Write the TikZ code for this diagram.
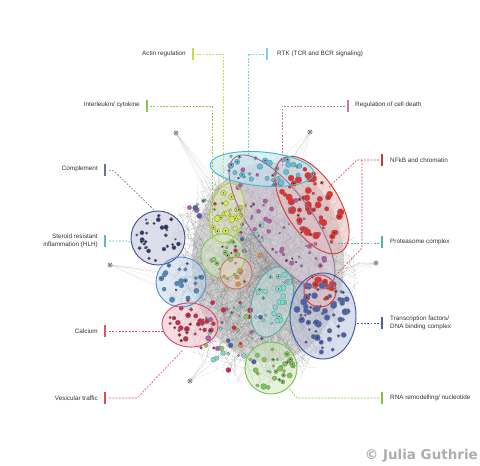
\documentclass[tikz,border=0pt]{standalone}
\usepackage{fontspec}
\setmainfont{Liberation Sans}
\newfontfamily\markfont{DejaVu Sans}
\usepackage{tikz}
\usepackage{xcolor}

% label bar / leader colours
\definecolor{actinC}{HTML}{C8DC46}
\definecolor{rtkC}{HTML}{7CCFDF}
\definecolor{ilkC}{HTML}{8CC850}
\definecolor{deathC}{HTML}{C47AAE}
\definecolor{complC}{HTML}{6670A4}
\definecolor{nfkbC}{HTML}{D23A3A}
\definecolor{hlhC}{HTML}{5AB8D8}
\definecolor{protC}{HTML}{52B4A8}
\definecolor{tfC}{HTML}{4E62A2}
\definecolor{calcC}{HTML}{E0506A}
\definecolor{vesiC}{HTML}{E04A56}
\definecolor{rnaC}{HTML}{78C446}
% cluster outlines
\definecolor{cyanL}{HTML}{40B8D4}
\definecolor{puL}{HTML}{9A709A}
\definecolor{redL}{HTML}{D04040}
\definecolor{yelL}{HTML}{B8CC40}
\definecolor{grL}{HTML}{8CC864}
\definecolor{orL}{HTML}{C87860}
\definecolor{navL}{HTML}{4A5290}
\definecolor{lbL}{HTML}{5A90CC}
\definecolor{caL}{HTML}{D44C68}
\definecolor{tlL}{HTML}{58AAAA}
\definecolor{bluL}{HTML}{4258A4}
\definecolor{lgL}{HTML}{78C450}
% dots
\definecolor{cyanD}{HTML}{5CC0DC}
\definecolor{puD}{HTML}{B45AAA}
\definecolor{redD}{HTML}{E23030}
\definecolor{yelD}{HTML}{D6E84A}
\definecolor{grD}{HTML}{8CCB5A}
\definecolor{orD}{HTML}{E88A3A}
\definecolor{navD}{HTML}{2E3870}
\definecolor{lbD}{HTML}{4A8AC4}
\definecolor{caD}{HTML}{CC2848}
\definecolor{tlD}{HTML}{7ADCD0}
\definecolor{bluD}{HTML}{4A62AE}
\definecolor{lgD}{HTML}{7CC850}

\tikzset{
  lab/.style={font=\fontsize{5.4}{6.6}\selectfont, text=black!80, inner sep=0pt},
  tag/.style={line width=1.3pt},
  lead/.style={dash pattern=on 1.6pt off 1.2pt, line width=0.5pt},
  dot/.style={draw=black!55, line width=0.2pt},
  edge/.style={black!50, line width=0.12pt, opacity=0.5},
  hub/.style={fill=gray!30, draw=black!60, line width=0.3pt}
}

% cx/cy/rx/ry/rotation/outline/dot colour/count/min size/extra size
\def\clusters{
  282/222/80/30/-54/puL/puD/55/0.9/1.6,
  312/205/55/27/-58/redL/redD/55/1.6/2.0,
  262/169/52/17/-5/cyanL/cyanD/30/1.5/1.6,
  227/213/17/30/-10/yelL/yelD/24/1.4/1.8,
  223/256/22/22/0/grL/grD/16/1.0/1.4,
  236/273/16/16/0/orL/orD/9/1.2/1.6,
  158/238/27/27/0/navL/navD/30/1.0/1.4,
  181/282/25/25/0/lbL/lbD/22/1.0/1.8,
  190/325/28/22/-5/caL/caD/28/1.0/1.8,
  272/302/20/36/-15/tlL/tlD/24/1.2/2.0,
  323/316/33/43/0/bluL/bluD/65/1.2/2.2,
  320/291/16/16/0/redL/redD/8/2.0/1.4,
  271/368/26/26/0/lgL/lgD/32/1.0/2.0}

\begin{document}
\begin{tikzpicture}[x=0.03cm,y=-0.03cm]
\useasboundingbox (0,0) rectangle (480,465);
\fill[white] (0,0) rectangle (480,465);
\pgfmathsetseed{4711}

% hairball
\fill[gray!45,opacity=0.7] (268,262) ellipse (76 and 100);
\fill[gray!40,opacity=0.5] (270,250) ellipse (50 and 70);
\foreach \k in {1,...,600}{
    \pgfmathsetmacro\aa{360*rnd}\pgfmathsetmacro\ra{sqrt(rnd)}
    \pgfmathsetmacro\ab{360*rnd}\pgfmathsetmacro\rb{sqrt(rnd)}
    \draw[edge] ({263+98*\ra*cos(\aa)},{268+120*\ra*sin(\aa)})
        -- ({263+98*\rb*cos(\ab)},{268+120*\rb*sin(\ab)});
}
\foreach \ox/\oy/\tx/\ty in {176/133/235/215, 310/132/285/178, 110/265/182/285, 376/263/345/272, 190/381/222/350}{
    \foreach \k in {1,...,7}{
        \draw[edge,black!30,opacity=0.5] (\ox,\oy) -- ({\tx+34*(rnd-0.5)},{\ty+34*(rnd-0.5)});
    }
}

% cluster fills
\foreach \cx/\cy/\rx/\ry/\rot/\lc/\dc/\n/\smin/\sadd in \clusters{
    \fill[\lc!35,opacity=0.55,rotate around={\rot:(\cx,\cy)}] (\cx,\cy) ellipse ({\rx} and {\ry});
}

% scattered nodes between the groups
\foreach \sx/\sy/\sr/\m in {232/335/38/45, 202/205/14/10, 250/240/20/12}{
    \foreach \k in {1,...,\m}{
        \pgfmathsetmacro\aa{360*rnd}\pgfmathsetmacro\ra{sqrt(rnd)}
        \pgfmathsetmacro\sz{1.0+1.8*rnd}
        \pgfmathtruncatemacro\c{int(6*rnd)}
        \ifcase\c \def\cc{orD}\or\def\cc{grD}\or\def\cc{puD}\or\def\cc{tlD}\or\def\cc{bluD}\else\def\cc{caD}\fi
        \filldraw[dot,fill=\cc] ({\sx+\sr*\ra*cos(\aa)},{\sy+\sr*\ra*sin(\aa)}) circle (\sz);
    }
}

% cluster nodes
\foreach \cx/\cy/\rx/\ry/\rot/\lc/\dc/\n/\smin/\sadd in \clusters{
    \begin{scope}[shift={(\cx,\cy)},rotate=\rot]
    \foreach \k in {1,...,\n}{
        \pgfmathsetmacro\aa{360*rnd}\pgfmathsetmacro\ra{0.86*sqrt(rnd)}
        \pgfmathsetmacro\px{\rx*\ra*cos(\aa)}\pgfmathsetmacro\py{\ry*\ra*sin(\aa)}
        \pgfmathsetmacro\sz{\smin+\sadd*rnd}
        \pgfmathtruncatemacro\blk{rnd<0.3}
        \filldraw[dot,fill=\dc] (\px,\py) circle (\sz);
        \ifnum\blk=1 \fill[black!85] (\px,\py) circle (0.7); \fi
    }
    \end{scope}
}

% cluster outlines
\foreach \cx/\cy/\rx/\ry/\rot/\lc/\dc/\n/\smin/\sadd in \clusters{
    \draw[\lc,line width=0.8pt,rotate around={\rot:(\cx,\cy)}] (\cx,\cy) ellipse ({\rx} and {\ry});
}

% lone hubs
\foreach \ox/\oy in {176/133, 310/132, 110/265, 376/263, 190/381}{
    \filldraw[hub] (\ox,\oy) circle (2.2);
    \fill[black!85] (\ox,\oy) circle (0.9);
}

% labels
\node[lab,anchor=east] (actin) at (186,54) {Actin regulation};
\node[lab,anchor=west] (rtk) at (277,54) {RTK (TCR and BCR signaling)};
\node[lab,anchor=east] (ilk) at (140,105) {Interleukin/ cytokine};
\node[lab,anchor=west] (death) at (355,105) {Regulation of cell death};
\node[lab,anchor=east] (compl) at (98,169) {Complement};
\node[lab,anchor=west] (nfkb) at (390,160) {NFkB and chromatin};
\node[lab,anchor=east,align=right] (hlh) at (98,241) {Steroid resistant\\inflammation (HLH)};
\node[lab,anchor=west] (prot) at (390,242) {Proteasome complex};
\node[lab,anchor=west,align=left] (tf) at (390,323) {Transcription factors/\\DNA binding complex};
\node[lab,anchor=east] (calc) at (98,331) {Calcium};
\node[lab,anchor=east] (vesi) at (98,398) {Vesicular traffic};
\node[lab,anchor=west] (rna) at (390,398) {RNA remodelling/ nucleotide};

% colour tags
\foreach \bx/\by/\col in {193/54/actinC, 267/54/rtkC, 147/106/ilkC, 348/106/deathC, 105/170/complC,
    382/160/nfkbC, 105/241/hlhC, 382/242/protC, 382/323/tfC, 105/331/calcC, 105/398/vesiC, 382/398/rnaC}{
    \draw[tag,\col] (\bx,\by-6) -- (\bx,\by+6);
}

% leader ends
\coordinate (actinT) at (223,186);
\coordinate (rtkT) at (248,156);
\coordinate (ilkT) at (212,240);
\coordinate (deathT) at (282,166);
\coordinate (complT) at (156,212);
\coordinate (nfkbT) at (328,188);
\coordinate (nfkbU) at (335,276);
\coordinate (hlhT) at (133,244);
\coordinate (protT) at (338,243);
\coordinate (tfT) at (357,323);
\coordinate (calcT) at (164,331);
\coordinate (vesiT) at (183,350);
\coordinate (rnaT) at (289,388);

% leaders
\draw[lead,actinC] (196,54) -| (actinT);
\draw[lead,rtkC] (264,54) -| (rtkT);
\draw[lead,ilkC] (150,106) -| (ilkT);
\draw[lead,deathC] (345,106) -| (deathT);
\draw[lead,complC] (109,170) -- (114,171) -- (complT);
\draw[lead,nfkbC] (379,160) -- (357,160) -- (nfkbT);
\draw[lead,nfkbC] (362,160) -- (362,248) -- (nfkbU);
\draw[lead,hlhC] (109,241) -- (128,241) -- (hlhT);
\draw[lead,protC] (379,243) -- (protT);
\draw[lead,tfC] (379,323) -- (tfT);
\draw[lead,calcC] (109,331) -- (calcT);
\draw[lead,vesiC] (109,398) -- (137,398) -- (vesiT);
\draw[lead,rnaC] (379,398) -- (297,398) -- (rnaT);

\node[anchor=east,inner sep=0pt,text=black!32,font=\markfont\bfseries\fontsize{11.5}{13}\selectfont] (credit) at (478,456) {© Julia Guthrie};
\end{tikzpicture}
\end{document}
